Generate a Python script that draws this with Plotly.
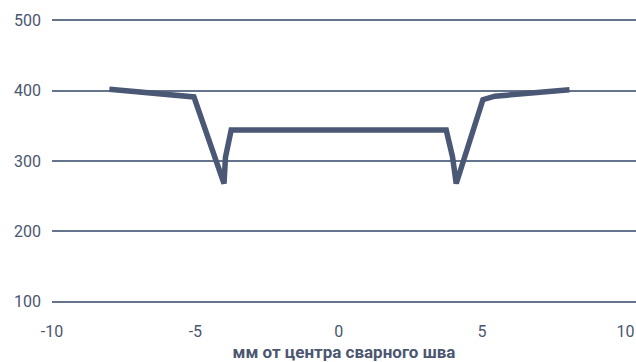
import plotly.graph_objects as go

x_mm = [-8.0, -5.05, -4.0, -3.95, -3.75, 3.75, 3.97, 4.1, 5.03, 5.45, 8.05]
hardness = [402, 391, 268, 305, 344, 344, 306, 268, 387, 392, 401]

x_ticks = [-10, -5, 0, 5, 10]
y_ticks = [100, 200, 300, 400, 500]

line_color = "#4a5876"
text_color = "#4b5670"
grid_color = "#66738c"

fig = go.Figure()
fig.add_trace(go.Scatter(
    x=x_mm, y=hardness, mode="lines",
    line=dict(color=line_color, width=5.5, shape="linear"),
    hoverinfo="skip", showlegend=False,
))

fig.update_layout(
    width=636, height=362,
    margin=dict(l=52, r=0, t=18, b=58),
    paper_bgcolor="white", plot_bgcolor="white",
    font=dict(family="Roboto", size=14, color=text_color),
    xaxis=dict(
        range=[-10, 10.37], tickvals=x_ticks, ticktext=[str(v) for v in x_ticks],
        showgrid=False, zeroline=False, showline=False,
        ticks="", ticklabelstandoff=16,
        tickfont=dict(size=16, color=text_color),
        title=dict(text="<b>мм от центра сварного шва</b>", standoff=8,
                   font=dict(size=17, color=text_color)),
    ),
    yaxis=dict(
        range=[97, 503], tickvals=y_ticks,
        showgrid=True, gridcolor=grid_color, gridwidth=1.5,
        zeroline=False, showline=False, ticks="",
        ticklabelstandoff=10,
        tickfont=dict(size=16, color=text_color),
    ),
)

fig.write_html("out.html")
